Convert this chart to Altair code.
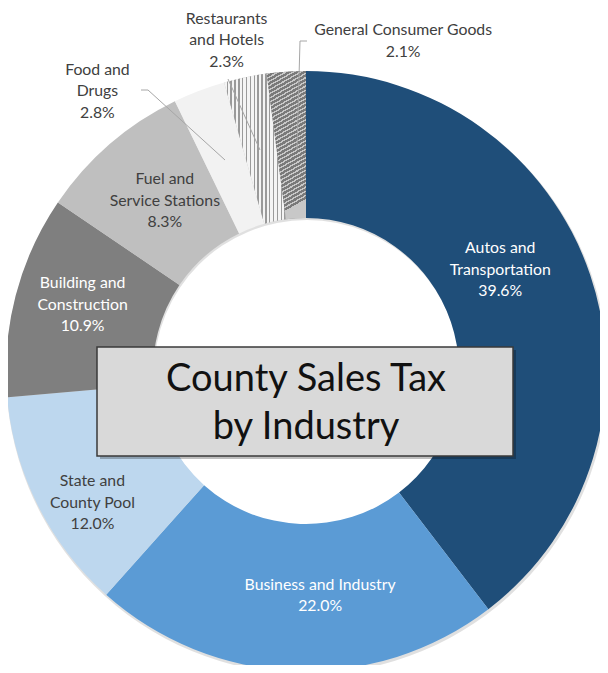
import math
import altair as alt
import pandas as pd

# ---- data (clockwise from 12 o'clock) ----
categories = ["Autos and Transportation", "Business and Industry", "State and County Pool",
              "Building and Construction", "Fuel and Service Stations", "Food and Drugs",
              "Restaurants and Hotels", "General Consumer Goods"]
label_text = ["Autos and\nTransportation", "Business and Industry", "State and\nCounty Pool",
              "Building and\nConstruction", "Fuel and\nService Stations", "Food and\nDrugs",
              "Restaurants\nand Hotels", "General Consumer Goods"]
shares = [39.6, 22.0, 12.0, 10.9, 8.3, 2.8, 2.3, 2.1]

# ---- styles ----
colors = ["#1F4E79", "#5B9BD5", "#BDD7EE", "#7F7F7F", "#BFBFBF", "#F2F2F2", "#C8C8C8", "#8C8C8C"]
text_colors = ["#FFFFFF", "#FFFFFF", "#404040", "#FFFFFF", "#404040", "#404040", "#404040", "#404040"]

# label layout: block-centre angle (deg, clockwise from 12 o'clock) and radius (px)
label_angle = [62.5, 176.4, 238.3, 286.5, 320.3, 323.3, 346.5, 16.4]
label_radius = [219, 225, 251, 233, 221, 349, 340, 344]

CX, CY = 298, 363          # donut centre (chart coords)
R_OUT, R_IN = 300, 153
LH = 21.5                  # label line height

df = pd.DataFrame({
    "idx": list(range(len(categories))),
    "category": categories,
    "share": shares,
})
df["label"] = [f"{t}\n{v:.1f}%" for t, v in zip(label_text, shares)]
df["tcolor"] = text_colors

# Vega anchors the first line of a multi-line label; shift anchor so the block is centred
th, rr = [], []
for lab, a, r in zip(df["label"], label_angle, label_radius):
    n = lab.count("\n") + 1
    dx = r * math.sin(math.radians(a))
    dy = -r * math.cos(math.radians(a)) - (n - 1) / 2 * LH
    rr.append(math.hypot(dx, dy))
    th.append(math.atan2(dx, -dy) % (2 * math.pi))
df["lab_theta"] = th
df["lab_r"] = rr

# striped / hatched fills as hard-stop gradients
def stripes(c1, c2, n, frac, x2, y2):
    stops = []
    for i in range(n):
        a = round(i / n, 4)
        b = round((i + frac) / n, 4)
        c = round((i + 1) / n, 4)
        stops += [{"offset": a, "color": c1}, {"offset": b, "color": c1},
                  {"offset": b, "color": c2}, {"offset": c, "color": c2}]
    return {"gradient": "linear", "x1": 0, "y1": 0, "x2": x2, "y2": y2, "stops": stops}

stripe_grad = stripes("#F4F4F4", "#9A9A9A", 16, 0.62, 1, 0)
hatch_grad = stripes("#7A7A7A", "#C8C8C8", 36, 0.62, 0.15, 1)

base = alt.Chart(df)
one = base.transform_filter(alt.datum.idx == 0)

shadow = one.mark_arc(
    theta=0, theta2=2 * math.pi, outerRadius=R_OUT + 1, innerRadius=R_IN,
    color="#000000", opacity=0.12
).encode(x=alt.value(CX + 1), y=alt.value(CY + 2))

stacked = base.transform_stack(
    stack="share", groupby=[], as_=["v0", "v1"], sort=[alt.SortField("idx", order="ascending")]
)
theta_scale = alt.Scale(domain=[0, 100])

arcs = stacked.mark_arc(outerRadius=R_OUT, innerRadius=R_IN).encode(
    theta=alt.Theta("v0:Q", scale=theta_scale),
    theta2="v1:Q",
    color=alt.Color("category:N", scale=alt.Scale(domain=categories, range=colors), legend=None),
    x=alt.value(CX), y=alt.value(CY),
)
stripe_arc = stacked.transform_filter(alt.datum.category == "Restaurants and Hotels").mark_arc(
    outerRadius=R_OUT, innerRadius=R_IN, fill=stripe_grad).encode(
    theta=alt.Theta("v0:Q", scale=theta_scale), theta2="v1:Q",
    x=alt.value(CX), y=alt.value(CY),
)
hatch_arc = stacked.transform_filter(alt.datum.category == "General Consumer Goods").mark_arc(
    outerRadius=R_OUT, innerRadius=R_IN, fill=hatch_grad).encode(
    theta=alt.Theta("v0:Q", scale=theta_scale), theta2="v1:Q",
    x=alt.value(CX), y=alt.value(CY),
)

labels = base.mark_text(font="Lato", fontSize=15.8, lineBreak="\n", lineHeight=LH,
                        align="center", baseline="middle").encode(
    theta=alt.Theta("lab_theta:Q", scale=None),
    radius=alt.Radius("lab_r:Q", scale=None),
    text="label:N",
    color=alt.Color("tcolor:N", scale=None),
    x=alt.value(CX), y=alt.value(CY),
)

# leader lines for the small outside slices
lead_color = "#A6A6A6"
def rule(x1, x2, y1, y2):
    return one.mark_rule(color=lead_color, strokeWidth=1).encode(
        x=alt.value(x1), x2=alt.value(x2), y=alt.value(y1), y2=alt.value(y2))

leaders = [rule(133, 140, 82, 82), rule(140, 217, 82, 152), rule(220, 252, 71, 142),
           rule(299, 292, 33, 33), rule(292, 289, 33, 142)]

box_shadow = one.mark_rect(color="#000000", opacity=0.25).encode(
    x=alt.value(92), x2=alt.value(508), y=alt.value(342), y2=alt.value(451))
box = one.mark_rect(fill="#D9D9D9", stroke="#3A3A3A", strokeWidth=1.5).encode(
    x=alt.value(89), x2=alt.value(505), y=alt.value(339), y2=alt.value(448))
title = one.mark_text(
    font="Lato", fontSize=38, color="#111111", lineBreak="\n", lineHeight=48,
    align="center", baseline="middle").encode(
    text=alt.value("County Sales Tax\nby Industry"),
    x=alt.value(CX), y=alt.value(372))

chart = alt.layer(shadow, arcs, stripe_arc, hatch_arc, labels, *leaders, box_shadow, box, title).resolve_scale(
    theta="independent", radius="independent", color="independent"
).properties(
    width=592, height=657, padding=0, autosize=alt.AutoSizeParams(type="none")
).configure_view(stroke=None)

chart.save("out.html", embed_options={"renderer": "svg", "actions": False})
